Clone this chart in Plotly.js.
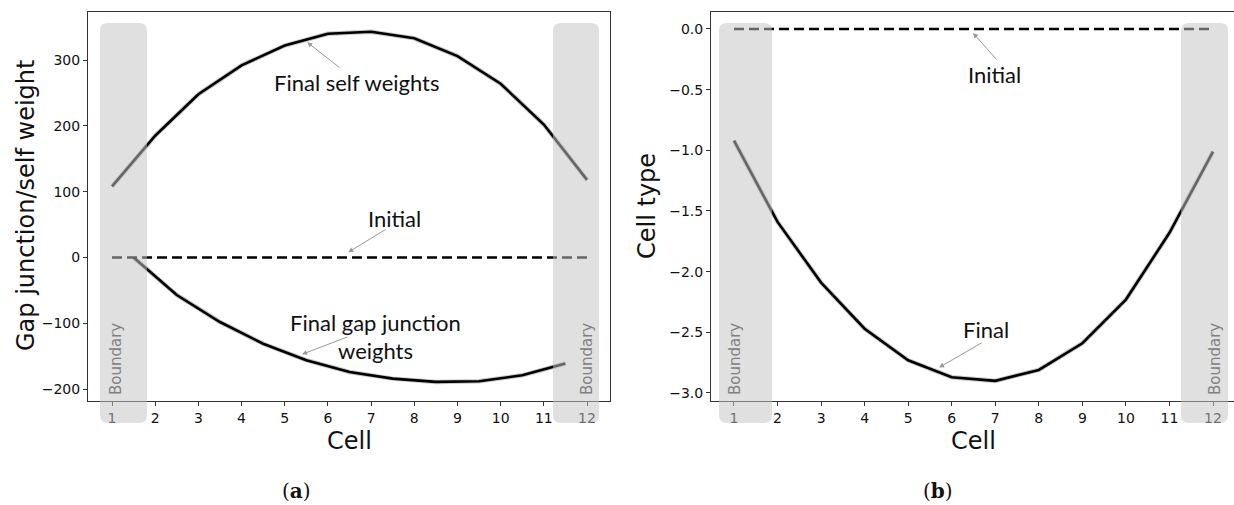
<!DOCTYPE html>
<html><head><meta charset="utf-8">
<script src="https://cdn.plot.ly/plotly-3.0.1.min.js"></script>
<style>html,body{margin:0;padding:0;background:#fff}</style>
</head><body><div id="chart" style="width:1234px;height:505px"></div>
<script>
// ---- data ----
const cells = [1,2,3,4,5,6,7,8,9,10,11,12];
const junctionPos = [1.5,2.5,3.5,4.5,5.5,6.5,7.5,8.5,9.5,10.5,11.5];
const selfWeights = [108,185,248,292,322,340,343,333,306,264,202,118];
const gapWeights = [0,-57,-98,-131,-156,-174,-184,-189,-188,-179,-161];
const initialWeights = [0,0,0,0,0,0,0,0,0,0,0,0];
const cellType = [-0.92,-1.59,-2.09,-2.47,-2.73,-2.87,-2.90,-2.81,-2.59,-2.23,-1.68,-1.01];
const initialType = [0,0,0,0,0,0,0,0,0,0,0,0];
const leftYTicks = [-200,-100,0,100,200,300];
const rightYTicks = [-3,-2.5,-2,-1.5,-1,-0.5,0];

// ---- layout helpers ----
const W = 1234, H = 505;
const px = v => v / W;
const py = v => (H - v) / H;
function rrect(x0, x1, y0, y1, r) {
  const rx = r / W, ry = r / H;
  const a = px(x0), b = px(x1), top = py(y0), bot = py(y1);
  return `M${a+rx},${top} L${b-rx},${top} Q${b},${top} ${b},${top-ry} L${b},${bot+ry} Q${b},${bot} ${b-rx},${bot} L${a+rx},${bot} Q${a},${bot} ${a},${bot+ry} L${a},${top-ry} Q${a},${top} ${a+rx},${top} Z`;
}
function band(x0, x1) {
  return {type:'path', xref:'paper', yref:'paper', path: rrect(x0, x1, 23, 423, 8),
    fillcolor:'rgb(195,195,195)', opacity:0.52, line:{width:0}, layer:'above'};
}

const haloStyle = {color:'rgba(0,0,0,0.22)', width:4.5};
const lineStyle = {color:'#000', width:2.6};
const dashStyle = {color:'#000', width:2.4, dash:'10px,5px'};
function tr(x, y, xa, ya, line) {
  return {x:x, y:y, xaxis:xa, yaxis:ya, mode:'lines', line:line, hoverinfo:'skip'};
}
const traces = [
  tr(cells, selfWeights, 'x', 'y', haloStyle),
  tr(cells, selfWeights, 'x', 'y', lineStyle),
  tr(junctionPos, gapWeights, 'x', 'y', haloStyle),
  tr(junctionPos, gapWeights, 'x', 'y', lineStyle),
  tr(cells, initialWeights, 'x', 'y', dashStyle),
  tr(cells, cellType, 'x2', 'y2', haloStyle),
  tr(cells, cellType, 'x2', 'y2', lineStyle),
  tr(cells, initialType, 'x2', 'y2', dashStyle)
];

const axisCommon = {
  showgrid:false, zeroline:false, showline:true, linecolor:'#333', linewidth:1,
  ticks:'outside', ticklen:4, tickwidth:1, tickcolor:'#333',
  tickfont:{family:'DejaVu Sans', size:14, color:'#111'}
};
const yDom = [py(401), py(12)];

function arrow(xr, yr, hx, hy, tx, ty) {
  return {xref:xr, yref:yr, axref:xr, ayref:yr, x:hx, y:hy, ax:tx, ay:ty,
    text:'', showarrow:true, arrowhead:2, arrowsize:1, arrowwidth:1, arrowcolor:'#999',
    standoff:0, startstandoff:0, font:{size:1}};
}
const labelFont = {family:'Lato', size:22, color:'#111'};
function label(xr, yr, x, y, t) {
  return {xref:xr, yref:yr, x:x, y:y, text:t, showarrow:false, xanchor:'center', yanchor:'middle', font:labelFont};
}
function paperText(x, y, t, size, family, angle, color) {
  return {xref:'paper', yref:'paper', x:px(x), y:py(y), text:t, showarrow:false,
    xanchor:'center', yanchor:'middle', textangle:angle||0,
    font:{family:family, size:size, color:color||'#111'}};
}

const annotations = [
  label('x','y', 6.67, 266, 'Final self weights'),
  arrow('x','y', 5.52, 327, 6.30, 287),
  label('x','y', 7.53, 59, 'Initial'),
  arrow('x','y', 6.47, 8, 7.37, 44),
  label('x','y', 7.09, -99, 'Final gap junction'),
  label('x','y', 7.09, -141, 'weights'),
  arrow('x','y', 5.40, -147, 6.48, -120),
  label('x2','y2', 6.99, -0.379, 'Initial'),
  arrow('x2','y2', 6.49, -0.033, 7.06, -0.264),
  label('x2','y2', 6.79, -2.48, 'Final'),
  arrow('x2','y2', 5.71, -2.79, 6.72, -2.58),
  paperText(26, 206, 'Gap junction/self weight', 24, 'DejaVu Sans', -90),
  paperText(647, 206, 'Cell type', 24, 'DejaVu Sans', -90),
  paperText(349, 441, 'Cell', 24, 'DejaVu Sans'),
  paperText(974, 441, 'Cell', 24, 'DejaVu Sans'),
  paperText(296, 491, '(<b>a</b>)', 20, 'DejaVu Serif'),
  paperText(938, 491, '(<b>b</b>)', 20, 'DejaVu Serif'),
  paperText(116, 359, 'Boundary', 15, 'DejaVu Sans', -90, '#808080'),
  paperText(587, 359, 'Boundary', 15, 'DejaVu Sans', -90, '#808080'),
  paperText(735, 359, 'Boundary', 15, 'DejaVu Sans', -90, '#808080'),
  paperText(1215, 359, 'Boundary', 15, 'DejaVu Sans', -90, '#808080')
];

const layout = {
  width: W, height: H, margin:{l:0, r:0, t:0, b:0},
  paper_bgcolor:'#fff', plot_bgcolor:'#fff', showlegend:false,
  xaxis: Object.assign({}, axisCommon, {domain:[px(88), px(610)], range:[0.444, 12.532], tickvals:cells, anchor:'y', mirror:true}),
  yaxis: Object.assign({}, axisCommon, {domain:yDom, range:[-218, 373], tickvals:leftYTicks, anchor:'x', mirror:true}),
  xaxis2: Object.assign({}, axisCommon, {domain:[px(711), 1], range:[0.472, 12.482], tickvals:cells, anchor:'y2', mirror:true}),
  yaxis2: Object.assign({}, axisCommon, {domain:yDom, range:[-3.066, 0.14], tickvals:rightYTicks, tickformat:'.1f', anchor:'x2'}),
  shapes: [band(100,147), band(553,599), band(719,772), band(1181,1228)],
  annotations: annotations
};

Plotly.newPlot('chart', traces, layout, {staticPlot:true});
</script></body></html>
